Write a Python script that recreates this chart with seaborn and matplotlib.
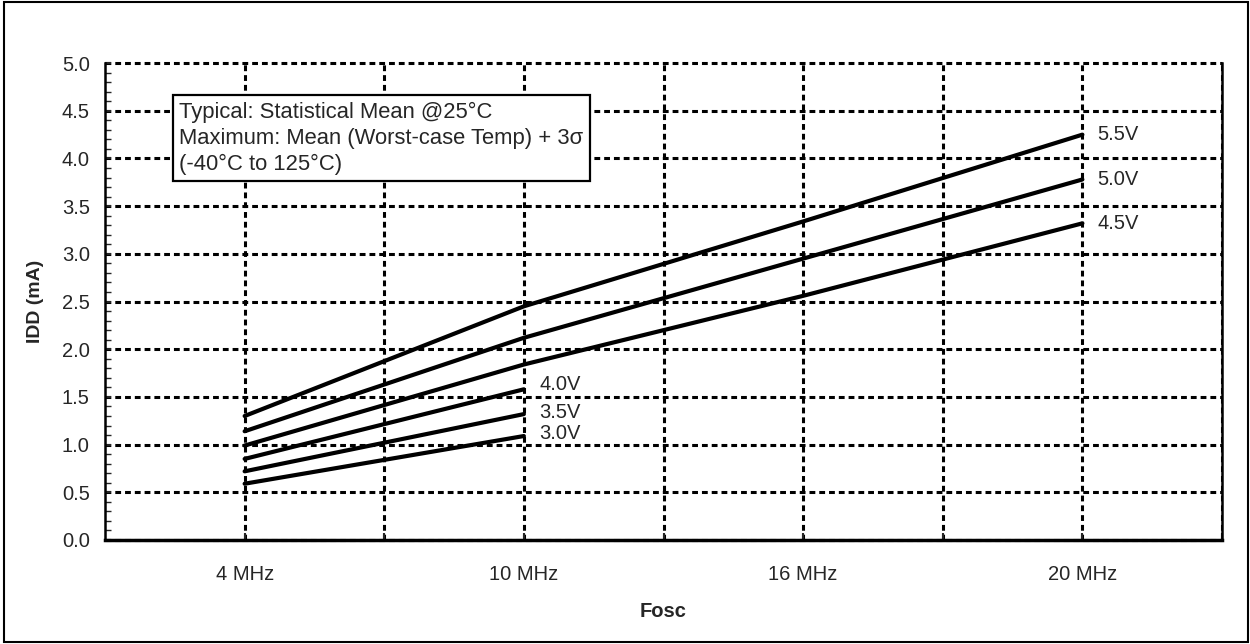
import pandas as pd
import seaborn as sns
import matplotlib.pyplot as plt
from matplotlib.patches import Rectangle
from matplotlib.ticker import MultipleLocator

# values (IDD in mA)
freq_labels = ["4 MHz", "10 MHz", "16 MHz", "20 MHz"]
vdd_labels = ["5.5V", "5.0V", "4.5V", "4.0V", "3.5V", "3.0V"]
idd_5v5 = [1.30, 2.45, 3.34, 4.25]
idd_5v0 = [1.14, 2.12, 2.95, 3.78]
idd_4v5 = [0.99, 1.84, 2.56, 3.32]
idd_4v0 = [0.85, 1.58]
idd_3v5 = [0.72, 1.32]
idd_3v0 = [0.59, 1.09]
note = "Typical: Statistical Mean @25°C\nMaximum: Mean (Worst-case Temp) + 3σ\n(-40°C to 125°C)"

series = [idd_5v5, idd_5v0, idd_4v5, idd_4v0, idd_3v5, idd_3v0]
# each frequency sits on every other slot of the axis (1, 3, 5, 7)
freq_pos = [1 + 2 * i for i in range(len(freq_labels))]

rows = []
for v, vals in zip(vdd_labels, series):
    for i, val in enumerate(vals):
        rows.append({"vdd": v, "pos": freq_pos[i], "idd": val})
df = pd.DataFrame(rows)

sns.set_style("white")
plt.rcParams['font.family'] = ['Liberation Sans', 'DejaVu Sans']

fig = plt.figure(figsize=(12.5, 6.44), dpi=100)
ax = fig.add_axes([0.084, 0.1615, 0.8936, 0.7405])

sns.lineplot(data=df, x="pos", y="idd", hue="vdd", palette={v: "black" for v in vdd_labels},
             linewidth=3, legend=False, ax=ax, zorder=3)

ax.set_xlim(0, 8)
ax.set_ylim(0, 5)
ax.set_xticks(range(1, 9))
xt = [""] * 8
for p, lab in zip(freq_pos, freq_labels):
    xt[p - 1] = lab
ax.set_xticklabels(xt)
ax.yaxis.set_major_locator(MultipleLocator(0.5))
ax.yaxis.set_minor_locator(MultipleLocator(0.1))
ax.set_yticklabels([f"{t:.1f}" for t in ax.get_yticks()])

ax.tick_params(axis="x", direction="in", length=5, width=1.5, pad=18, labelsize=14.5, bottom=True)
ax.tick_params(axis="y", which="major", direction="in", length=4, width=1.5, pad=11, labelsize=14.5, left=True)
ax.tick_params(axis="y", which="minor", direction="in", length=4, width=1, left=True)

ax.grid(True, which="major", color="black", linewidth=2.2, linestyle=(0, (1.9, 1.3)))
for ln in ax.get_ygridlines():
    ln.set_clip_on(False)

ax.spines["top"].set_visible(False)
ax.spines["bottom"].set_linewidth(2.5)
ax.spines["left"].set_linewidth(1.8)
ax.spines["right"].set_linewidth(1.8)
for s in ax.spines.values():
    s.set_color("black")

ax.set_xlabel("Fosc", fontsize=14.5, fontweight="bold", labelpad=13)
ax.set_ylabel("IDD (mA)", fontsize=14, fontweight="bold", labelpad=13)

# curve labels at the right end of each line
nudges = {"5.5V": 0, "5.0V": 0, "4.5V": 0, "4.0V": 3.6, "3.5V": 1.5, "3.0V": 2}
for v, vals in zip(vdd_labels, series):
    ax.annotate(v, xy=(freq_pos[len(vals) - 1], vals[-1]), xytext=(11, nudges[v]),
                textcoords="offset points", ha="left", va="center", fontsize=14.5)

ax.text(0.0665, 0.919, note, transform=ax.transAxes, ha="left", va="top", fontsize=15.8,
        linespacing=1.3, zorder=5,
        bbox=dict(boxstyle="square,pad=0.3", facecolor="white", edgecolor="black", linewidth=1.6))

fig.patches.append(Rectangle((0.003, 0.003), 0.995, 0.994, transform=fig.transFigure,
                             fill=False, edgecolor="black", linewidth=1.5))

fig.savefig("out.png", dpi=100)
